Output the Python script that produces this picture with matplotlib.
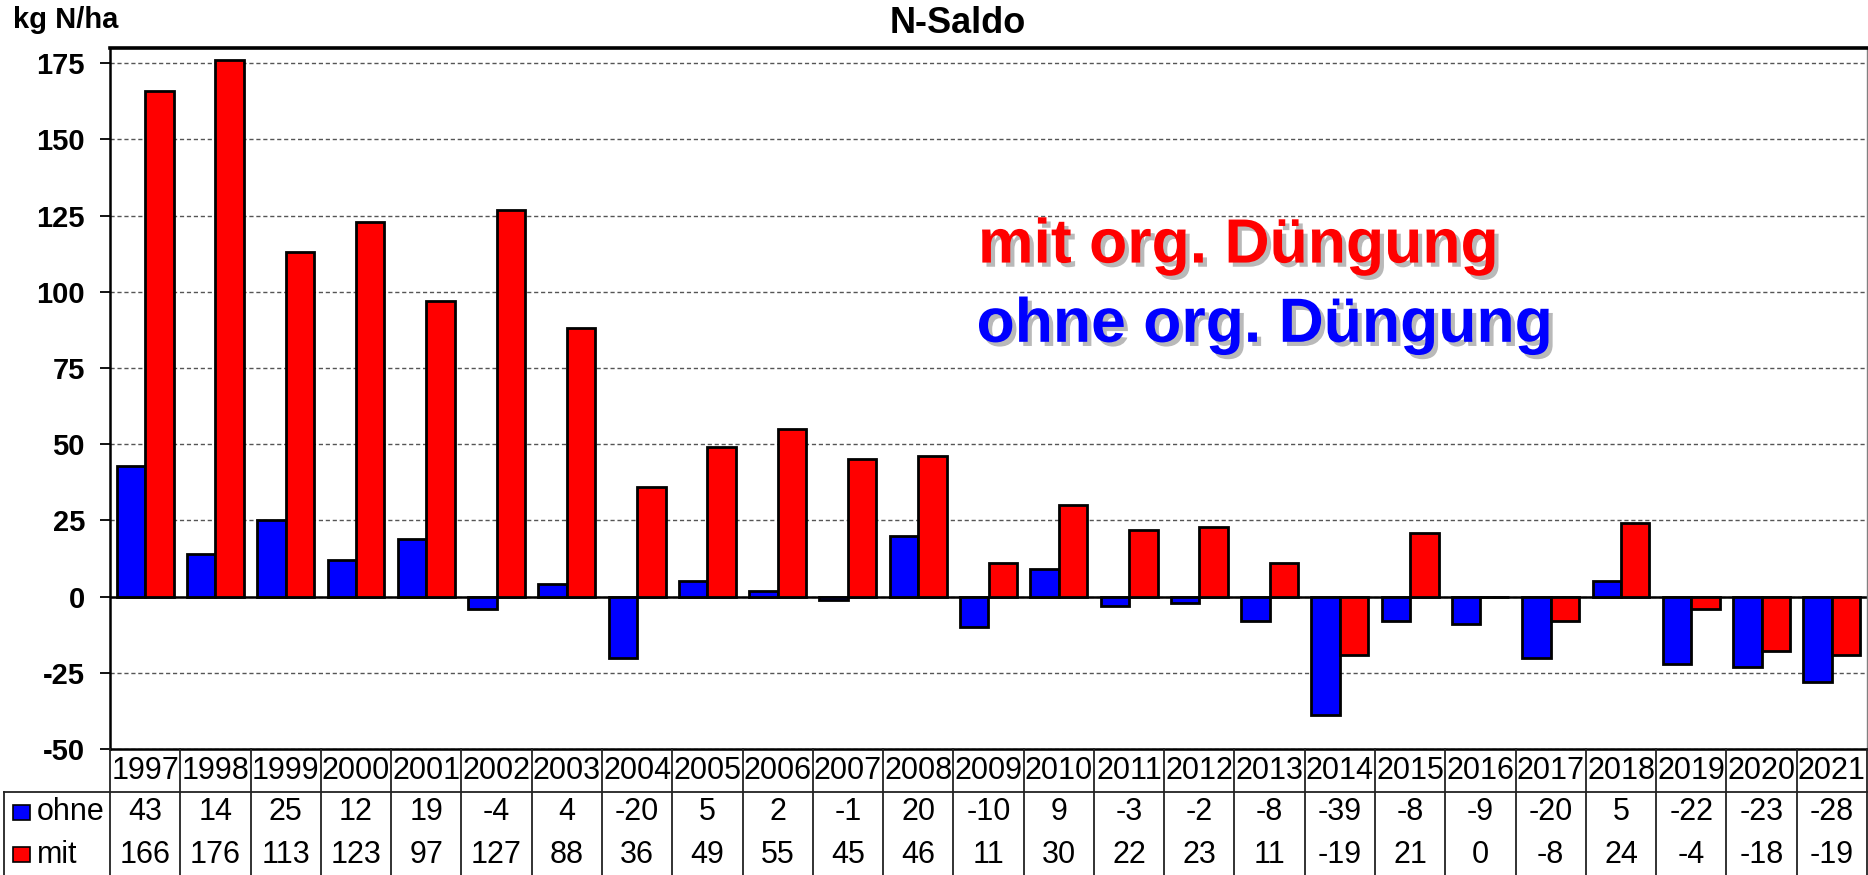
import numpy as np
import matplotlib.pyplot as plt
import matplotlib.patheffects as pe
from matplotlib.patches import Rectangle

plt.rcParams['font.family'] = ['Liberation Sans', 'DejaVu Sans']

# data (kg N/ha)
years = ['1997', '1998', '1999', '2000', '2001', '2002', '2003', '2004', '2005',
         '2006', '2007', '2008', '2009', '2010', '2011', '2012', '2013', '2014',
         '2015', '2016', '2017', '2018', '2019', '2020', '2021']
ohne = [43, 14, 25, 12, 19, -4, 4, -20, 5, 2, -1, 20, -10, 9, -3, -2, -8, -39,
        -8, -9, -20, 5, -22, -23, -28]
mit = [166, 176, 113, 123, 97, 127, 88, 36, 49, 55, 45, 46, 11, 30, 22, 23, 11,
       -19, 21, 0, -8, 24, -4, -18, -19]
yticks = [-50, -25, 0, 25, 50, 75, 100, 125, 150, 175]

W, H = 1868, 875
fig = plt.figure(figsize=(W / 100, H / 100), dpi=100)

# main plot area (pixel layout from the reference)
ax = fig.add_axes([110 / W, 1 - 749 / H, 1757 / W, 701 / H])
n = len(years)
x = np.arange(n)
bw = 0.405
ax.bar(x - bw / 2, ohne, bw, color='#0000FF', edgecolor='black', linewidth=2, zorder=3)
ax.bar(x + bw / 2, mit, bw, color='#FF0000', edgecolor='black', linewidth=2, zorder=3)
ax.axhline(0, color='black', linewidth=1.8, zorder=2)

ax.set_xlim(-0.5, n - 0.5)
ax.set_ylim(-50, 180)
ax.set_yticks(yticks)
ax.set_yticklabels([str(v) for v in yticks], fontsize=21, fontweight='bold')
ax.tick_params(axis='y', direction='out', length=7, width=1.3, pad=11)
ax.tick_params(axis='x', bottom=False, labelbottom=False)
ax.yaxis.grid(True, linestyle=(0, (3, 2)), color='#555555', linewidth=1)
ax.set_axisbelow(True)

ax.spines['top'].set_linewidth(2.6)
ax.spines['left'].set_linewidth(1.8)
ax.spines['bottom'].set_linewidth(1.8)
ax.spines['right'].set_linewidth(1)
ax.spines['right'].set_color('#808080')

shadow = [pe.withSimplePatchShadow(offset=(3, -3), shadow_rgbFace='#808080', alpha=0.55)]
ax.text(11.85, 109.6, 'mit org. Düngung', color='#FF0000', fontsize=45,
        fontweight='bold', ha='left', va='baseline', path_effects=shadow, zorder=5)
ax.text(11.83, 83.6, 'ohne org. Düngung', color='#0000FF', fontsize=45,
        fontweight='bold', ha='left', va='baseline', path_effects=shadow, zorder=5)

fig.text(958 / W, 1 - 33 / H, 'N-Saldo', fontsize=26, fontweight='bold',
         ha='center', va='baseline')
fig.text(13 / W, 1 - 28 / H, 'kg N/ha', fontsize=21, fontweight='bold',
         ha='left', va='baseline')

# data table underneath, columns share the bar positions
tax = fig.add_axes([110 / W, 0, 1757 / W, 126 / H])
tax.set_xlim(-0.5, n - 0.5)
tax.set_ylim(126, 0)
tax.axis('off')
lc = '#222222'
left_edge = -0.5 - 106 / 70.3
for b in np.arange(n + 1) - 0.5:
    tax.plot([b, b], [0, 126], color=lc, linewidth=1.3, clip_on=False)
tax.plot([left_edge, n - 0.5], [43, 43], color=lc, linewidth=1.3, clip_on=False)
tax.plot([left_edge, left_edge], [43, 126], color=lc, linewidth=1.3, clip_on=False)

for i in range(n):
    tax.text(i, 22, years[i], fontsize=22, ha='center', va='center', clip_on=False)
    tax.text(i, 63, str(ohne[i]), fontsize=22, ha='center', va='center', clip_on=False)
    tax.text(i, 106, str(mit[i]), fontsize=22, ha='center', va='center', clip_on=False)

sq_x = -0.5 - 97 / 70.3
sq_w = 17 / 70.3
tax.add_patch(Rectangle((sq_x, 56), sq_w, 15, facecolor='#0000FF', edgecolor='black',
                        linewidth=1.2, clip_on=False))
tax.add_patch(Rectangle((sq_x, 98), sq_w, 15, facecolor='#FF0000', edgecolor='black',
                        linewidth=1.2, clip_on=False))
lab_x = -0.5 - 73 / 70.3
tax.text(lab_x, 63, 'ohne', fontsize=22, ha='left', va='center', clip_on=False)
tax.text(lab_x, 106, 'mit', fontsize=22, ha='left', va='center', clip_on=False)

fig.savefig('out.png', dpi=100)
